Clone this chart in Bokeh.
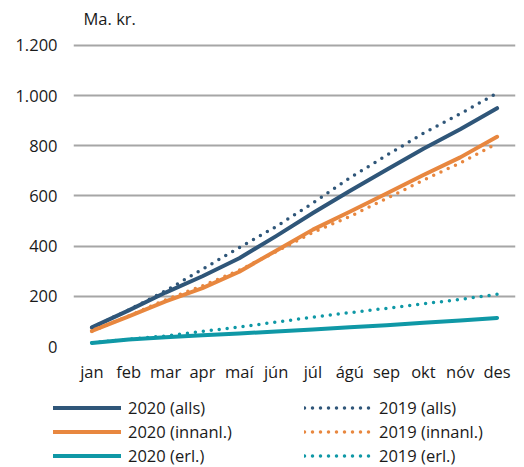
from bokeh.plotting import figure
from bokeh.layouts import column
from bokeh.models import Range1d, FactorRange, FixedTicker, Legend, LegendItem, Label
from bokeh.embed import file_html
from bokeh.resources import INLINE

months = ["jan", "feb", "mar", "apr", "maí", "jún", "júl", "ágú", "sep", "okt", "nóv", "des"]
alls_2020 = [76, 144, 215, 280, 352, 440, 532, 620, 705, 788, 866, 950]
alls_2019 = [76, 146, 222, 308, 394, 478, 572, 672, 762, 850, 928, 1010]
innanl_2020 = [62, 120, 180, 233, 298, 382, 466, 537, 610, 684, 754, 836]
innanl_2019 = [60, 122, 186, 242, 304, 378, 455, 518, 590, 663, 732, 810]
erl_2020 = [14, 28, 37, 45, 52, 60, 68, 77, 85, 95, 104, 114]
erl_2019 = [15, 29, 42, 60, 78, 97, 117, 135, 152, 170, 188, 208]
y_ticks = [0, 200, 400, 600, 800, 1000, 1200]
y_tick_labels = ["0", "200", "400", "600", "800", "1.000", "1.200"]

BLUE = "#2f5679"
ORANGE = "#e8873f"
TEAL = "#0f98a6"
FONT = "Open Sans"
TXT = "#1a1a1a"

# frame runs from the top edge down to the zero line; headroom above 1.200 holds the unit label
p = figure(width=524, height=396, output_backend="svg", toolbar_location=None,
           x_range=FactorRange(*months, range_padding=0), y_range=Range1d(0, 1379.4),
           min_border_left=73, min_border_right=9, min_border_top=0, min_border_bottom=50)
p.frame_align = False
p.outline_line_color = None
p.background_fill_color = "white"
p.border_fill_color = "white"

p.xgrid.grid_line_color = None
p.ygrid.grid_line_color = "#a6a6a6"
p.ygrid.grid_line_width = 2
p.yaxis.ticker = FixedTicker(ticks=y_ticks)
p.yaxis.major_label_overrides = {t: l for t, l in zip(y_ticks, y_tick_labels)}

for ax in (p.xaxis, p.yaxis):
    ax.axis_line_color = None
    ax.major_tick_line_color = None
    ax.minor_tick_line_color = None
    ax.major_tick_in = 0
    ax.major_tick_out = 0
    ax.major_label_text_font = FONT
    ax.major_label_text_font_size = "16.5px"
    ax.major_label_text_color = TXT
p.yaxis.major_label_standoff = 16
p.xaxis.major_label_standoff = 13

p.add_layout(Label(x=10, y=328, x_units="screen", y_units="screen", text="Ma. kr.",
                   text_font=FONT, text_font_size="16.5px", text_color=TXT,
                   text_baseline="middle"))

series = [
    ("2020 (alls)", alls_2020, BLUE, False),
    ("2020 (innanl.)", innanl_2020, ORANGE, False),
    ("2020 (erl.)", erl_2020, TEAL, False),
    ("2019 (alls)", alls_2019, BLUE, True),
    ("2019 (innanl.)", innanl_2019, ORANGE, True),
    ("2019 (erl.)", erl_2019, TEAL, True),
]

# legend strip below the chart (its series lie outside its visible y range)
q = figure(width=524, height=71, output_backend="svg", toolbar_location=None,
           x_range=FactorRange(*months, range_padding=0), y_range=Range1d(-3000, -2000),
           x_axis_type=None, y_axis_type=None, min_border=0)
q.frame_align = False
q.outline_line_color = None
q.xgrid.grid_line_color = None
q.ygrid.grid_line_color = None

items = []
for name, vals, col, dotted in series:
    if dotted:
        style = dict(line_color=col, line_width=3.5, line_dash="0 8", line_cap="round")
    else:
        style = dict(line_color=col, line_width=4, line_cap="round", line_join="round")
    p.line(months, vals, **style)
    r = q.line(months, vals, **style)
    items.append(LegendItem(label=name, renderers=[r]))

legend = Legend(items=items, location=(53, 0), orientation="vertical", nrows=3,
                glyph_width=68, glyph_height=17, label_standoff=7, label_width=175,
                label_height=17, spacing=1, padding=0, margin=0,
                label_text_font=FONT, label_text_font_size="16.5px",
                label_text_color=TXT,
                border_line_color=None, background_fill_alpha=0)
q.add_layout(legend)

open("out.html", "w").write(file_html(column(p, q, spacing=0), INLINE))
